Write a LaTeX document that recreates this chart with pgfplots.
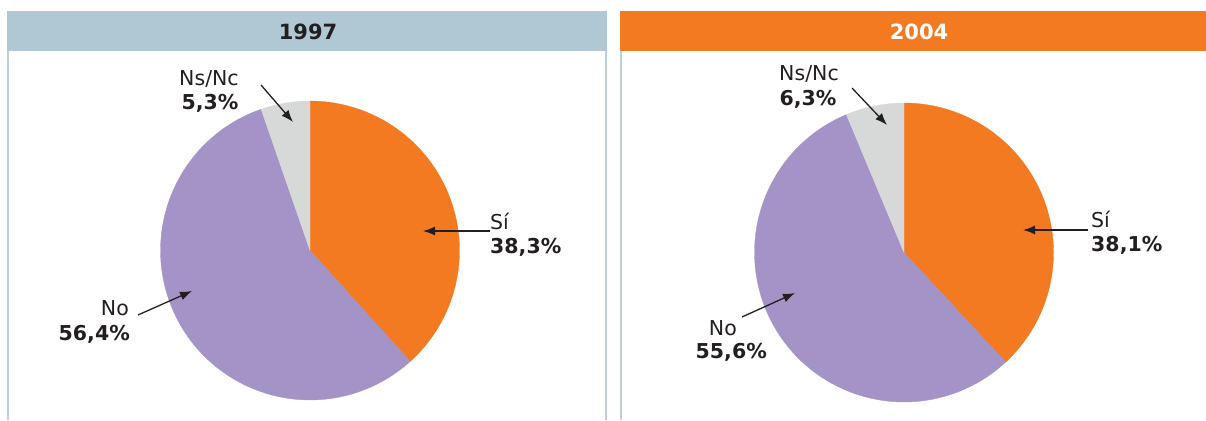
\documentclass[border=0pt]{standalone}
\usepackage{pgfplots}
\pgfplotsset{compat=1.18}
\usepackage{fontspec}
\setmainfont{DejaVu Sans}
\usetikzlibrary{arrows.meta}
\definecolor{cSi}{HTML}{F37A21}
\definecolor{cNo}{HTML}{A493C6}
\definecolor{cNs}{HTML}{D7D8D8}
\definecolor{hdrblue}{HTML}{AFC8D4}
\definecolor{bordblue}{HTML}{B9CFDA}
\definecolor{txt}{HTML}{231F20}
% values (percent)
\def\SiA{38.3}\def\NoA{56.4}\def\NsA{5.3}
\def\SiB{38.1}\def\NoB{55.6}\def\NsB{6.3}
\begin{document}
\begin{tikzpicture}
\begin{axis}[
  width=1206pt, height=420pt, scale only axis,
  xmin=0, xmax=1206, ymin=0, ymax=420, y dir=reverse,
  hide axis, clip=false]
% panels
\fill[hdrblue] (axis cs:7,11) rectangle (axis cs:607,51);
\fill[cSi] (axis cs:620,11) rectangle (axis cs:1218,51);
\draw[bordblue, line width=2pt] (axis cs:8,51) -- (axis cs:8,420);
\draw[bordblue, line width=2pt] (axis cs:606,51) -- (axis cs:606,420);
\draw[bordblue, line width=2pt] (axis cs:621,51) -- (axis cs:621,420);
\node[anchor=base, text=txt, font=\fontsize{21}{24}\selectfont\bfseries] at (axis cs:308,40) {1997};
\node[anchor=base, text=white, font=\fontsize{21}{24}\selectfont\bfseries] at (axis cs:919,40) {2004};
% pie 1997
\addplot[draw=cSi, line width=0.3pt, fill=cSi, domain={90-3.6*\SiA}:90, samples=100, variable=\t]
  ({310+149.5*cos(t)}, {250.5-149.5*sin(t)}) -- (axis cs:310,250.5) -- cycle;
\addplot[draw=cNo, line width=0.3pt, fill=cNo, domain={90-3.6*(\SiA+\NoA)}:{90-3.6*\SiA}, samples=120, variable=\t]
  ({310+149.5*cos(t)}, {250.5-149.5*sin(t)}) -- (axis cs:310,250.5) -- cycle;
\addplot[draw=cNs, line width=0.3pt, fill=cNs, domain=-270:{90-3.6*(\SiA+\NoA)}, samples=30, variable=\t]
  ({310+149.5*cos(t)}, {250.5-149.5*sin(t)}) -- (axis cs:310,250.5) -- cycle;
% pie 2004
\addplot[draw=cSi, line width=0.3pt, fill=cSi, domain={90-3.6*\SiB}:90, samples=100, variable=\t]
  ({904+149.5*cos(t)}, {252.5-149.5*sin(t)}) -- (axis cs:904,252.5) -- cycle;
\addplot[draw=cNo, line width=0.3pt, fill=cNo, domain={90-3.6*(\SiB+\NoB)}:{90-3.6*\SiB}, samples=120, variable=\t]
  ({904+149.5*cos(t)}, {252.5-149.5*sin(t)}) -- (axis cs:904,252.5) -- cycle;
\addplot[draw=cNs, line width=0.3pt, fill=cNs, domain=-270:{90-3.6*(\SiB+\NoB)}, samples=30, variable=\t]
  ({904+149.5*cos(t)}, {252.5-149.5*sin(t)}) -- (axis cs:904,252.5) -- cycle;
% arrows
\begin{scope}[txt, line width=1.3pt, -{Latex[length=12pt,width=9pt]}]
\draw (axis cs:490,231) -- (axis cs:423,231);
\draw (axis cs:138,315) -- (axis cs:192,291);
\draw (axis cs:261,85) -- (axis cs:293,122);
\draw (axis cs:1088,230) -- (axis cs:1023,230);
\draw (axis cs:742,317) -- (axis cs:795,293);
\draw (axis cs:852,88) -- (axis cs:887,125);
\end{scope}
% labels
\begin{scope}[every node/.style={text=txt, inner sep=0pt, font=\fontsize{20.5}{24}\selectfont}]
\node[anchor=base west] at (axis cs:490,229) {Sí};
\node[anchor=base west, font=\fontsize{20.5}{24}\selectfont\bfseries] at (axis cs:490,253) {38,3\%};
\node[anchor=base east] at (axis cs:129,315) {No};
\node[anchor=base east, font=\fontsize{20.5}{24}\selectfont\bfseries] at (axis cs:130,340) {56,4\%};
\node[anchor=base] at (axis cs:209,85) {Ns/Nc};
\node[anchor=base, font=\fontsize{20.5}{24}\selectfont\bfseries] at (axis cs:210,109) {5,3\%};
\node[anchor=base west] at (axis cs:1091,227) {Sí};
\node[anchor=base west, font=\fontsize{20.5}{24}\selectfont\bfseries] at (axis cs:1091,251) {38,1\%};
\node[anchor=base east] at (axis cs:737,335) {No};
\node[anchor=base east, font=\fontsize{20.5}{24}\selectfont\bfseries] at (axis cs:767,358) {55,6\%};
\node[anchor=base] at (axis cs:809,81) {Ns/Nc};
\node[anchor=base, font=\fontsize{20.5}{24}\selectfont\bfseries] at (axis cs:808,105) {6,3\%};
\end{scope}
\end{axis}
\pgfresetboundingbox
\path[use as bounding box] (current axis.south west) rectangle (current axis.north east);
\end{tikzpicture}
\end{document}
